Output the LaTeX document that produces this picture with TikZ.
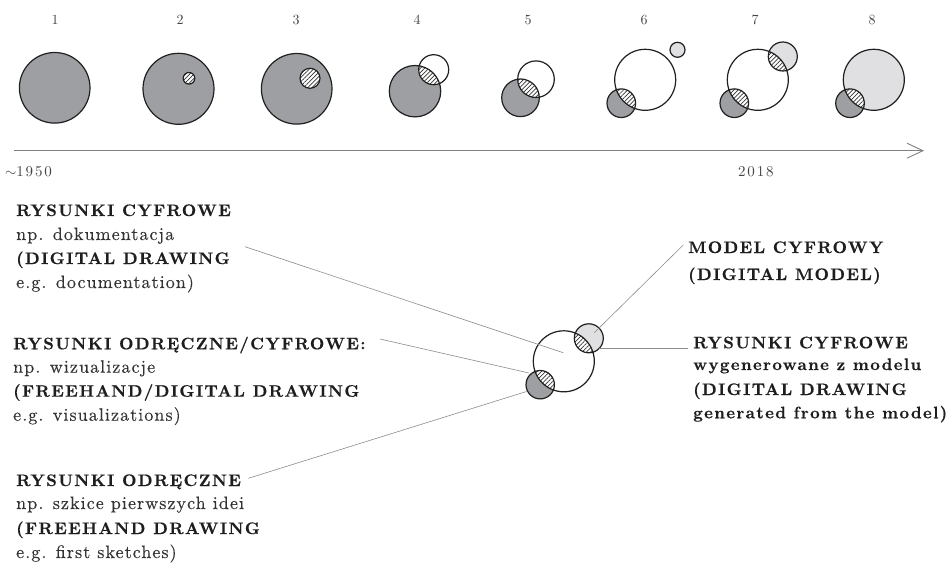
\documentclass[tikz,border=0pt]{standalone}
\usepackage{fontspec}
\usetikzlibrary{patterns.meta,arrows.meta}
\definecolor{dgray}{HTML}{9E9FA2}
\definecolor{lgray}{HTML}{E0E0E2}
\definecolor{ink}{HTML}{202020}
\definecolor{txtc}{HTML}{333333}
\definecolor{boldc}{HTML}{1E1E1E}
\definecolor{numc}{HTML}{444444}
\definecolor{connc}{HTML}{8C8C8C}
\definecolor{axisc}{HTML}{808080}
\definecolor{hatchc}{HTML}{333333}
\newfontfamily\regls{lmroman10-regular.otf}[LetterSpace=6, FakeBold=0.3]
\newfontfamily\boldls{lmroman10-bold.otf}[LetterSpace=8, FakeBold=0.4]
\newfontfamily\numls{lmroman10-regular.otf}[LetterSpace=6]
\newfontfamily\yearls{lmroman10-regular.otf}[LetterSpace=12]
\newcommand\regtxt{\regls\fontsize{18}{20}\selectfont}
\newcommand\boldtxt{\boldls\fontsize{16.7}{20}\selectfont}
\newcommand\numtxt{\numls\fontsize{14}{16}\selectfont}
\newcommand\yeartxt{\yearls\fontsize{15}{16}\selectfont}
\newcommand\lens[4]{%
  \begin{scope}
    \clip (#1) circle[radius=#2];
    \fill[white] (#3) circle[radius=#4];
    \fill[hatch] (#3) circle[radius=#4];
  \end{scope}}
\tikzset{
  ring/.style={draw=ink, line width=1.2pt},
  hatch/.style={pattern={Lines[angle=45,distance=3pt,line width=0.7pt]}, pattern color=hatchc},
  conn/.style={draw=connc, line width=0.6pt},
  axisline/.style={draw=axisc, line width=0.9pt, -{Straight Barb[length=16pt,width=15pt,line width=0.9pt]}},
  reg/.style={anchor=base west, inner sep=0pt, text=txtc, font=\regtxt},
  hd/.style={anchor=base west, inner sep=0pt, text=boldc, font=\boldtxt},
  num/.style={anchor=base, inner sep=0pt, text=numc, font=\numtxt},
  year/.style={anchor=base west, inner sep=0pt, text=numc, font=\yeartxt},
}
\begin{document}
\begin{tikzpicture}[x=1pt,y=-1pt]
\useasboundingbox[fill=white] (0,0) rectangle (947,565);

% ---- numbers
\foreach \xx/\nn in {55/1,180/2,296/3,417/4,528/5,644/6,755/7,872/8}
  \node[num, name=n\nn] at (\xx,24) {\nn};

% ---- timeline circles
% 1
\coordinate (c1) at (54.7,87.8);
\filldraw[ring, fill=dgray] (c1) circle[radius=35.3pt];
% 2
\coordinate (c2) at (178.5,88.8);
\coordinate (h2) at (189,78.3);
\filldraw[ring, fill=dgray] (c2) circle[radius=35.5pt];
\fill[white] (h2) circle[radius=5.8pt];
\filldraw[ring, hatch] (h2) circle[radius=5.8pt];
% 3
\coordinate (c3) at (296.7,88.8);
\coordinate (h3) at (310,78.3);
\filldraw[ring, fill=dgray] (c3) circle[radius=35.3pt];
\fill[white] (h3) circle[radius=10pt];
\filldraw[ring, hatch] (h3) circle[radius=10pt];
% 4
\coordinate (g4) at (415,91.2);
\coordinate (w4) at (433.7,69.7);
\fill[dgray] (g4) circle[radius=25.7pt];
\lens{g4}{25.7pt}{w4}{15pt}
\draw[ring] (g4) circle[radius=25.7pt] (w4) circle[radius=15pt];
% 5
\coordinate (g5) at (520.5,97.8);
\coordinate (w5) at (536,79.2);
\fill[dgray] (g5) circle[radius=18.8pt];
\lens{g5}{18.8pt}{w5}{18.3pt}
\draw[ring] (g5) circle[radius=18.8pt] (w5) circle[radius=18.3pt];
% 6
\coordinate (b6) at (645.2,79.8);
\coordinate (g6) at (621.3,103.2);
\coordinate (l6) at (677.5,49.8);
\fill[white] (b6) circle[radius=30.5pt];
\fill[dgray] (g6) circle[radius=14.3pt];
\lens{b6}{30.5pt}{g6}{14.3pt}
\draw[ring] (b6) circle[radius=30.5pt] (g6) circle[radius=14.3pt];
\filldraw[ring, fill=lgray] (l6) circle[radius=7.5pt];
% 7
\coordinate (b7) at (757.8,79.8);
\coordinate (g7) at (734.3,103.2);
\coordinate (l7) at (782.8,56.5);
\fill[white] (b7) circle[radius=30.5pt];
\fill[dgray] (g7) circle[radius=14.3pt];
\fill[lgray] (l7) circle[radius=14.5pt];
\lens{b7}{30.5pt}{g7}{14.3pt}
\lens{b7}{30.5pt}{l7}{14.5pt}
\draw[ring] (b7) circle[radius=30.5pt] (g7) circle[radius=14.3pt] (l7) circle[radius=14.5pt];
% 8
\coordinate (b8) at (873.8,79.8);
\coordinate (g8) at (850,103.2);
\fill[lgray] (b8) circle[radius=30.5pt];
\fill[dgray] (g8) circle[radius=14.3pt];
\lens{b8}{30.5pt}{g8}{14.3pt}
\draw[ring] (b8) circle[radius=30.5pt] (g8) circle[radius=14.3pt];

% ---- axis
\coordinate (ax0) at (14,150.7);
\coordinate (ax1) at (924,150.7);
\draw[axisline] (ax0) -- (ax1);
\node[year, name=y1950] at (5,176) {$\sim$1950};
\node[year, name=y2018] at (738,176) {2018};

% ---- central diagram
\coordinate (bc) at (563.8,361.3);
\coordinate (gc) at (540.2,384.7);
\coordinate (lc) at (588.8,338.3);
\fill[white] (bc) circle[radius=30.5pt];
\fill[dgray] (gc) circle[radius=14.2pt];
\fill[lgray] (lc) circle[radius=14.5pt];
\lens{bc}{30.5pt}{gc}{14.2pt}
\lens{bc}{30.5pt}{lc}{14.5pt}
\draw[ring] (bc) circle[radius=30.5pt] (gc) circle[radius=14.2pt] (lc) circle[radius=14.5pt];

% ---- left texts
\node[hd,  name=a1] at (16,216)   {RYSUNKI CYFROWE};
\node[reg, name=a2] at (16,240)   {np. dokumentacja};
\node[hd,  name=a3] at (16,264)   {(DIGITAL DRAWING};
\node[reg, name=a4] at (16,288)   {e.g. documentation)};

\node[hd,  name=b1] at (13,349.3) {RYSUNKI ODRĘCZNE/CYFROWE:};
\node[reg, name=b2] at (13,372.7) {np. wizualizacje};
\node[hd,  name=b3] at (13,396.7) {(FREEHAND/DIGITAL DRAWING};
\node[reg, name=b4] at (13,420.7) {e.g. visualizations)};

\node[hd,  name=c1t] at (16,486)  {RYSUNKI ODRĘCZNE};
\node[reg, name=c2t] at (16,509)  {np. szkice pierwszych idei};
\node[hd,  name=c3t] at (16,534)  {(FREEHAND DRAWING};
\node[reg, name=c4t] at (16,558)  {e.g. first sketches)};

% ---- right texts
\node[hd, name=d1] at (688,253)   {MODEL CYFROWY};
\node[hd, name=d2] at (688,280)   {(DIGITAL MODEL)};

\node[hd, name=e1] at (693,348.3) {RYSUNKI CYFROWE};
\node[hd, name=e2] at (693,370)   {wygenerowane z modelu};
\node[hd, name=e3] at (693,395)   {(DIGITAL DRAWING};
\node[hd, name=e4] at (693,418.3) {generated from the model)};

% ---- connectors
\coordinate (pa) at (245,246.7);
\coordinate (qa) at (563.3,352.7);
\coordinate (pb) at (380,339);
\coordinate (qb) at (529,373);
\coordinate (pc) at (248.3,478.3);
\coordinate (qc) at (526.5,391.5);
\coordinate (pd) at (683.3,245);
\coordinate (qd) at (594.3,332.7);
\coordinate (pe) at (688.3,348.3);
\coordinate (qe) at (599.3,348.3);
\draw[conn] (pa) -- (qa);
\draw[conn] (pb) -- (qb);
\draw[conn] (pc) -- (qc);
\draw[conn] (qd) -- (pd);
\draw[conn] (qe) -- (pe);
\end{tikzpicture}
\end{document}
